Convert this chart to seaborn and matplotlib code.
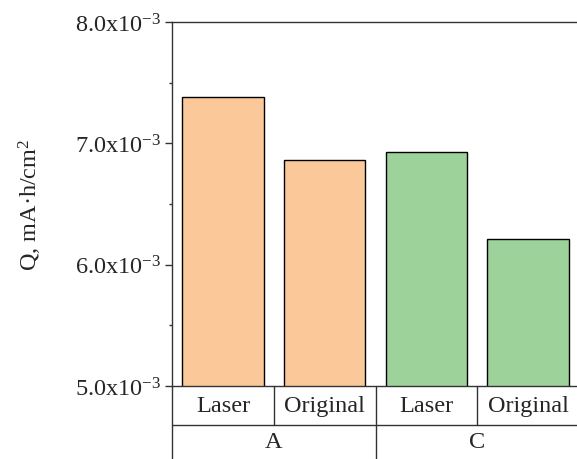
import numpy as np
import pandas as pd
import seaborn as sns
import matplotlib.pyplot as plt
from matplotlib.ticker import MultipleLocator, FuncFormatter
import matplotlib.transforms as mtransforms

# ── Data ──────────────────────────────────────────────────────────────────────
groups   = ["A", "A", "C", "C"]
samples  = ["Laser", "Original", "Laser", "Original"]
q_values = [7.38e-3, 6.865e-3, 6.93e-3, 6.21e-3]
colors   = ["#FBC999", "#FBC999", "#9DD39B", "#9DD39B"]

df = pd.DataFrame({"pos": range(len(q_values)), "group": groups,
                   "sample": samples, "Q": q_values})

# ── Style ─────────────────────────────────────────────────────────────────────
sns.set_style("ticks")
plt.rcParams["font.family"] = ["Liberation Serif", "DejaVu Serif"]
plt.rcParams["mathtext.fontset"] = "custom"
plt.rcParams["mathtext.rm"] = "Liberation Serif"
plt.rcParams["mathtext.default"] = "regular"
fs = 17.5
line_c = "#333333"

fig = plt.figure(figsize=(5.77, 4.6), dpi=100)
ax = fig.add_axes([172 / 577, 73 / 460, 407 / 577, 364 / 460])

sns.barplot(data=df, x="pos", y="Q", hue="pos", palette=colors, legend=False,
            width=0.8, edgecolor="black", linewidth=1, saturation=1,
            ax=ax, native_scale=True)

ax.set_xlim(-0.5, 3.5)
ax.set_ylim(5.0e-3, 8.0e-3)
ax.yaxis.set_major_locator(MultipleLocator(1e-3))
ax.yaxis.set_minor_locator(MultipleLocator(0.5e-3))
ax.yaxis.set_major_formatter(FuncFormatter(lambda v, p: f"{v * 1e3:.1f}x10$^{{-3}}$"))
ax.tick_params(axis="y", which="major", direction="out", length=5, width=1,
               color=line_c, labelsize=fs, pad=3)
ax.tick_params(axis="y", which="minor", direction="out", length=2, width=1, color=line_c)
ax.set_xticks([])
ax.set_xlabel("")
ax.set_ylabel("Q, mA·h/cm$^2$", fontsize=fs, labelpad=22)

for side in ["left", "top", "bottom"]:
    ax.spines[side].set_color(line_c)
    ax.spines[side].set_linewidth(1)
ax.spines["right"].set_visible(False)

# ── Two-level category table under the axis ──────────────────────────────────
trans = mtransforms.blended_transform_factory(ax.transData, ax.transAxes)
row1, row2 = -0.107, -0.21
kw = dict(transform=trans, color=line_c, lw=1, clip_on=False)
ax.plot([-0.5, -0.5], [0, row2], **kw)
ax.plot([-0.5, 3.5], [row1, row1], **kw)
for x in [0.5, 2.5]:
    ax.plot([x, x], [0, row1], **kw)
ax.plot([1.5, 1.5], [0, row2], **kw)

for i, s in enumerate(samples):
    ax.text(i, row1 / 2, s, transform=trans, ha="center", va="center", fontsize=fs)
for g, xc in [("A", 0.5), ("C", 2.5)]:
    ax.text(xc, (row1 + row2) / 2 + 0.005, g, transform=trans, ha="center",
            va="center", fontsize=fs)

fig.savefig("out.png", dpi=100)
